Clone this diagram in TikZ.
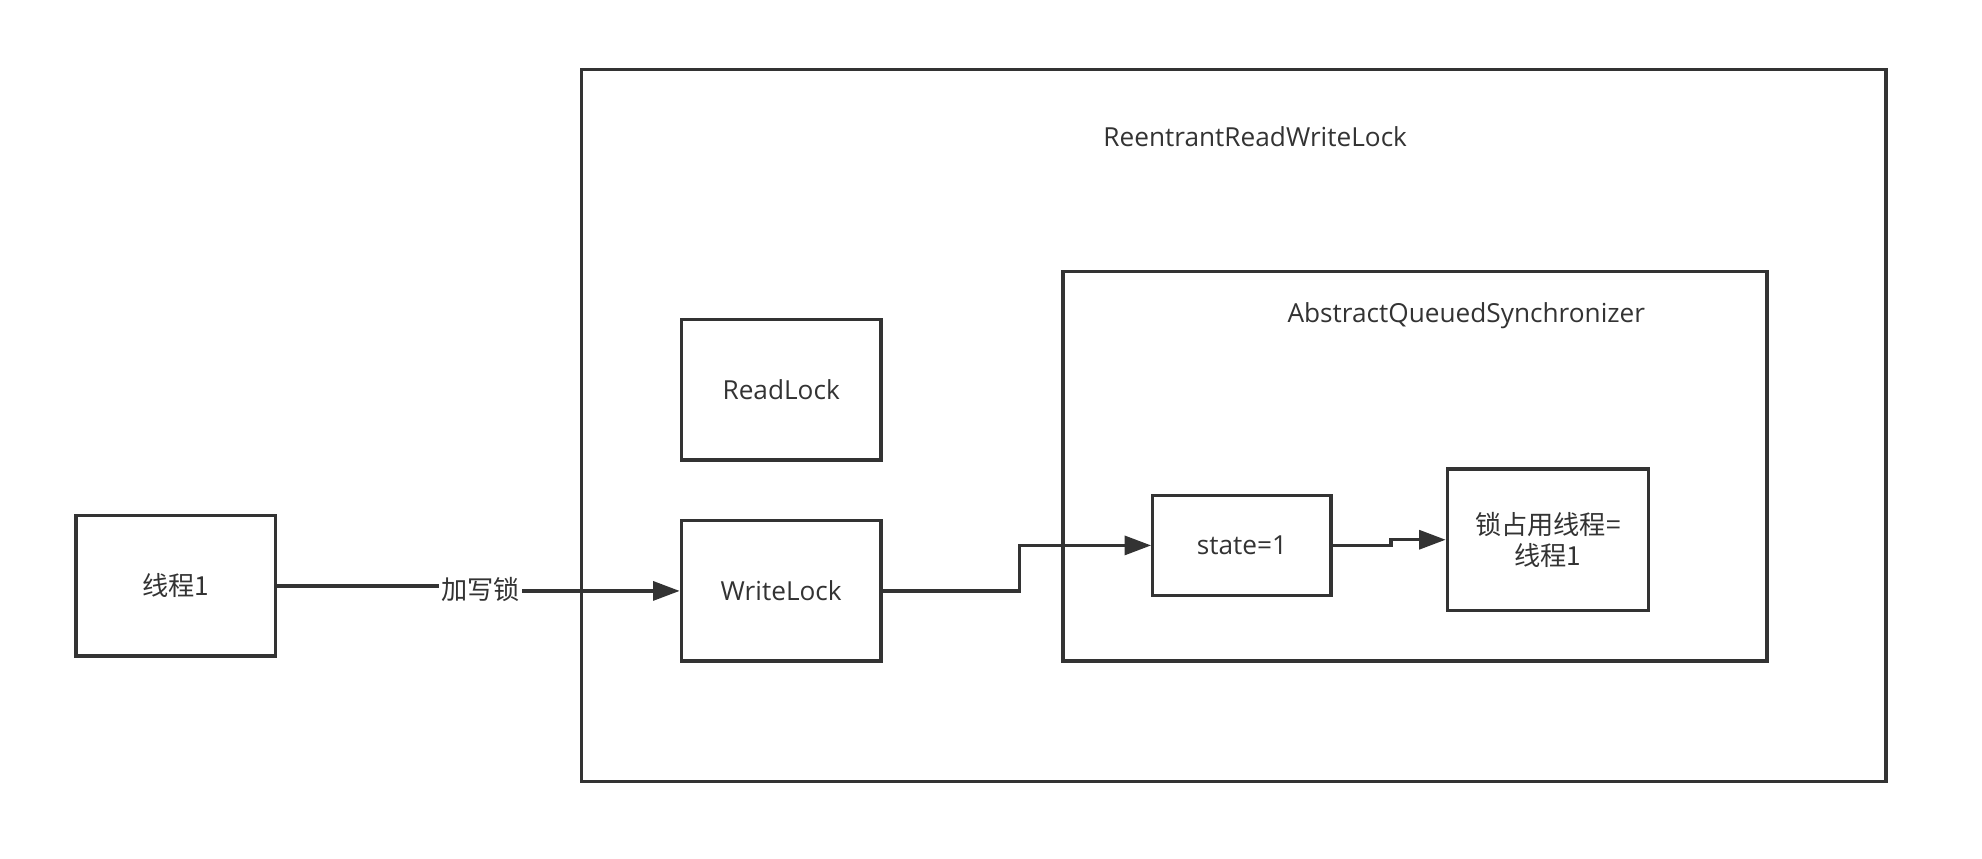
\documentclass[tikz,border=0pt]{standalone}
\usepackage{fontspec}
\setmainfont{Open Sans}
\newfontfamily\cjk{Noto Sans CJK SC}
\usetikzlibrary{arrows.meta, positioning}
\definecolor{lkdark}{HTML}{333333}

\begin{document}
\begin{tikzpicture}[
  every node/.style={font=\fontsize{11.8}{14.2}\selectfont, text=lkdark},
  frame/.style={rectangle, draw=lkdark, line width=1.5pt, inner sep=0pt},
  box/.style={rectangle, draw=lkdark, line width=1.5pt, inner sep=0pt, minimum width=3.16cm, minimum height=2.22cm, align=center},
  edge/.style={-{Triangle[length=0.42cm, width=0.3cm]}, draw=lkdark, line width=1.5pt},
]
\useasboundingbox (0,0) rectangle (31.36,-13.58);

% Containers
\node[frame, minimum width=20.64cm, minimum height=11.26cm] (rrw) at (19.52,-6.73) {};
\node (rrwlbl) at (19.86,-2.16) {ReentrantReadWriteLock};
\node[frame, minimum width=11.14cm, minimum height=6.16cm] (aqs) at (22.39,-7.38) {};
\node (aqslbl) at (23.2,-5.0) {AbstractQueuedSynchronizer};

% Locks
\node[box] (rl) at (12.36,-6.17) {ReadLock};
\node[box] (wl) at (12.36,-9.35) {WriteLock};

% Thread
\node[box] (t1) at (2.78,-9.27) {\cjk 线程1};

% Inside AQS
\node[box, minimum width=2.82cm, minimum height=1.58cm] (st) at (19.65,-8.63) {state=1};
\node[box, minimum width=3.18cm, minimum height=2.24cm] (ow) at (24.49,-8.54) {\cjk 锁占用线程=\\\cjk 线程1};

% Edges
\draw[edge] (t1.east) -- ++(3.24,0) |- (wl.west);
\node[fill=white, inner sep=1pt] (lk) at (7.6,-9.33) {\cjk 加写锁};
\draw[edge] (wl.east) -- ++(2.16,0) |- (st.west);
\draw[edge] (st.east) -- ++(0.92,0) |- (ow.west);

\end{tikzpicture}
\end{document}
